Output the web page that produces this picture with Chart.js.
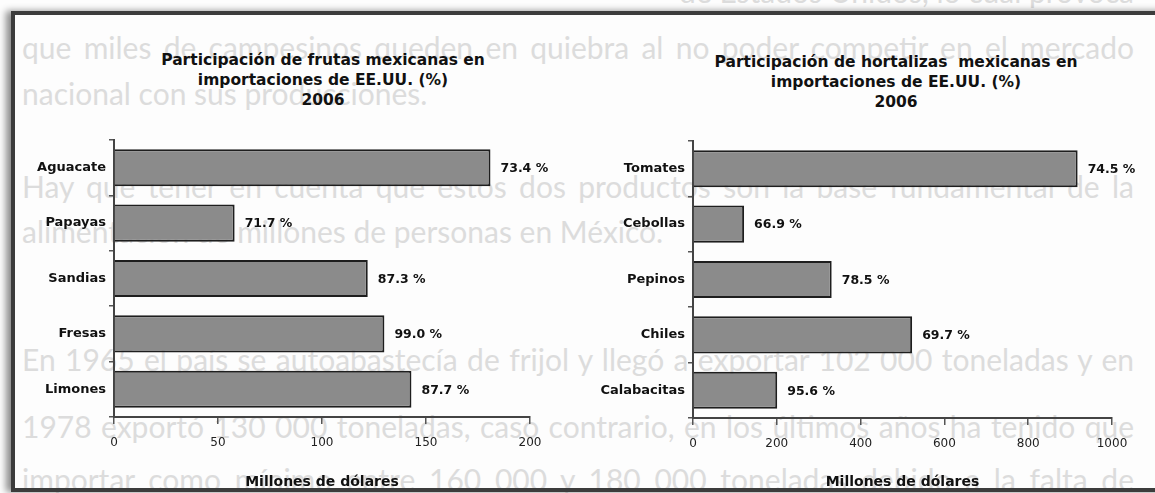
<!DOCTYPE html>
<html>
<head>
<meta charset="utf-8">
<script src="https://cdn.jsdelivr.net/npm/chart.js@4.4.0/dist/chart.umd.min.js"></script>
<style>
body{margin:0;background:#fff;}
#page{position:relative;width:1155px;height:493px;overflow:hidden;background:#fdfdfd;}
.bg{position:absolute;left:22px;width:1112px;font-family:Lato,sans-serif;font-size:30px;line-height:32px;color:#dcdcdc;white-space:nowrap;}
.just{text-align:justify;text-align-last:justify;white-space:normal;}
#frame{position:absolute;left:11px;top:11px;width:1200px;height:473px;border:4px solid #3c3c3c;box-shadow:-5px 0 7px rgba(0,0,0,.45);}
.title{position:absolute;width:500px;text-align:center;font-family:"DejaVu Sans";font-weight:bold;font-size:15.5px;line-height:20px;color:#111;white-space:pre;}
canvas{position:absolute;}
</style>
</head>
<body>
<div id="page">

<div class="bg" style="top:-25px;text-align:right;">de Estados Unidos, lo cual provoca</div>
<div class="bg just" style="top:31px;">que miles de campesinos queden en quiebra al no poder competir en el mercado</div>
<div class="bg" style="top:77px;">nacional con sus producciones.</div>
<div class="bg just" style="top:170px;">Hay que tener en cuenta que estos dos productos son la base fundamental de la</div>
<div class="bg" style="top:215px;">alimentación de millones de personas en México.</div>
<div class="bg just" style="top:343px;">En 1965 el país se autoabastecía de frijol y llegó a exportar 102 000 toneladas y en</div>
<div class="bg just" style="top:410px;">1978 exportó 130 000 toneladas, caso contrario, en los últimos años ha tenido que</div>
<div class="bg just" style="top:463px;">importar como mínimo entre 160 000 y 180 000 toneladas debido a la falta de</div>

<div id="frame"></div>

<div class="title" style="left:73px;top:50px;">Participación de frutas mexicanas en
importaciones de EE.UU. (%)
2006</div>
<div class="title" style="left:646px;top:52px;">Participación de hortalizas  mexicanas en
importaciones de EE.UU. (%)
2006</div>

<canvas id="fruitChart" width="560" height="373" style="left:14px;top:120px;"></canvas>
<canvas id="vegChart" width="560" height="373" style="left:593px;top:120px;"></canvas>
</div>

<script>
// ---------------- data ----------------
const fruitCats = ["Aguacate","Papayas","Sandias","Fresas","Limones"];
const fruitValues = [181,58,122,130,143];
const fruitShares = ["73.4 %","71.7 %","87.3 %","99.0 %","87.7 %"];
const fruitTicks = [0,50,100,150,200];

const vegCats = ["Tomates","Cebollas","Pepinos","Chiles","Calabacitas"];
const vegValues = [918,122,331,523,201];
const vegShares = ["74.5 %","66.9 %","78.5 %","69.7 %","95.6 %"];
const vegTicks = [0,200,400,600,800,1000];

const axisTitle = "Millones de dólares";

// percentage text to the right of each bar
const valueLabels = {
id:"valueLabels",
afterDatasetsDraw(chart, args, opts){
const ctx = chart.ctx;
ctx.save();
ctx.font = 'bold 12.5px "DejaVu Sans"';
ctx.fillStyle = "#111";
ctx.textBaseline = "middle";
chart.getDatasetMeta(0).data.forEach((bar,i)=>{
ctx.fillText(opts.texts[i], bar.x + 10, bar.y + 1);
});
ctx.restore();
}
};

function makeChart(id, cats, values, shares, ticks, pad, xHeight){

return new Chart(document.getElementById(id),{

type:"bar",

data:{
labels:cats,
datasets:[{
data:values,
backgroundColor:"#8b8b8b",
borderColor:"#1e1e1e",
borderWidth:2,
barPercentage:0.67,
categoryPercentage:1
}]
},

options:{
indexAxis:"y",
responsive:false,
animation:false,
layout:{padding:pad},
plugins:{
legend:{display:false},
tooltip:{enabled:false},
valueLabels:{texts:shares}
},
scales:{
y:{
afterFit(s){ s.width = 100; },
grid:{drawOnChartArea:false,tickLength:5,color:"#555",lineWidth:1.5},
border:{color:"#444",width:2},
ticks:{color:"#111",padding:3,font:{family:"DejaVu Sans",weight:"bold",size:13}}
},
x:{
min:ticks[0],
max:ticks[ticks.length-1],
afterFit(s){ s.height = xHeight; },
grid:{drawOnChartArea:false,tickLength:7,color:"#555",lineWidth:1.5},
border:{color:"#444",width:2},
ticks:{
stepSize:ticks[1]-ticks[0],
color:"#222",
padding:12,
font:{family:"DejaVu Sans",size:12},
callback:(v)=>String(v)
},
title:{display:true,text:axisTitle,color:"#111",padding:{top:0,bottom:2},font:{family:"DejaVu Sans",weight:"bold",size:14}}
}
}
},

plugins:[valueLabels]

});

}

makeChart("fruitChart", fruitCats, fruitValues, fruitShares, fruitTicks, {left:0,right:44,top:20,bottom:0}, 76);
makeChart("vegChart", vegCats, vegValues, vegShares, vegTicks, {left:0,right:41,top:21,bottom:0}, 75);
</script>
</body>
</html>
